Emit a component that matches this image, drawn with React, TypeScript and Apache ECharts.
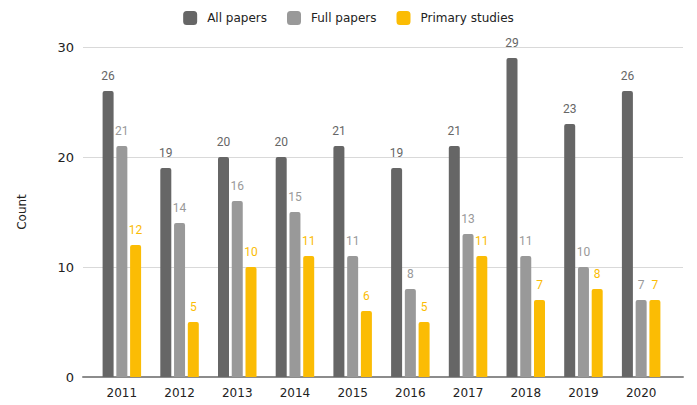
import React, { useEffect, useRef } from "react";
import * as echarts from "echarts";

const years = ["2011", "2012", "2013", "2014", "2015", "2016", "2017", "2018", "2019", "2020"];
const allPapers = [26, 19, 20, 20, 21, 19, 21, 29, 23, 26];
const fullPapers = [21, 14, 16, 15, 11, 8, 13, 11, 10, 7];
const primaryStudies = [12, 5, 10, 11, 6, 5, 11, 7, 8, 7];
const seriesNames = ["All papers", "Full papers", "Primary studies"];
const colors = ["#666666", "#999999", "#fbbc04"];

export default function App() {
  const ref = useRef<HTMLDivElement>(null);
  useEffect(() => {
    if (!ref.current) return;
    const chart = echarts.init(ref.current, null, { renderer: "svg" });
    const font = "DejaVu Sans";
    const mk = (name: string, data: number[], color: string) => ({
      name,
      type: "bar",
      xAxisIndex: 1,
      yAxisIndex: 1,
      data,
      barWidth: 11,
      barGap: "25%",
      itemStyle: { color, borderRadius: [2, 2, 0, 0] },
      label: {
        show: true,
        position: "top",
        distance: 9,
        color,
        fontFamily: "Roboto",
        fontSize: 12,
      },
    });
    chart.setOption({
      animation: false,
      legend: {
        top: 6,
        left: "center",
        itemWidth: 14,
        itemHeight: 14,
        itemGap: 20,
        icon: "roundRect",
        textStyle: { fontFamily: font, fontSize: 12, color: "#222", padding: [0, 0, 0, 5] },
        data: seriesNames,
      },
      grid: [
        { left: 83, right: 14, top: 47, bottom: 28 },
        { left: 93, right: 27, top: 47, bottom: 28 },
      ],
      xAxis: [
        {
          gridIndex: 0,
          type: "value",
          min: 0,
          max: 1,
          axisLabel: { show: false },
          axisTick: { show: false },
          splitLine: { show: false },
          axisLine: { show: true, lineStyle: { color: "#8c8c8c", width: 2 } },
        },
        {
          gridIndex: 1,
          type: "category",
          data: years,
          axisLine: { show: false },
          axisTick: { show: false },
          axisLabel: { fontFamily: font, fontSize: 12, color: "#222", margin: 10 },
        },
      ],
      yAxis: [
        {
          gridIndex: 0,
          type: "value",
          min: 0,
          max: 30,
          interval: 10,
          name: "Count",
          nameLocation: "middle",
          nameGap: 55,
          nameTextStyle: { fontFamily: font, fontSize: 12, color: "#222" },
          axisLine: { show: false },
          axisTick: { show: false },
          axisLabel: { fontFamily: font, fontSize: 13, color: "#222", margin: 9 },
          splitLine: { lineStyle: { color: "#d9d9d9", width: 1 } },
        },
        {
          gridIndex: 1,
          type: "value",
          min: 0,
          max: 30,
          interval: 10,
          show: false,
        },
      ],
      series: [
        mk(seriesNames[0], allPapers, colors[0]),
        mk(seriesNames[1], fullPapers, colors[1]),
        mk(seriesNames[2], primaryStudies, colors[2]),
      ],
    });
    return () => chart.dispose();
  }, []);
  return <div ref={ref} style={{ width: 697, height: 405, position: "fixed", left: 0, top: 0, background: "#fff" }} />;
}
